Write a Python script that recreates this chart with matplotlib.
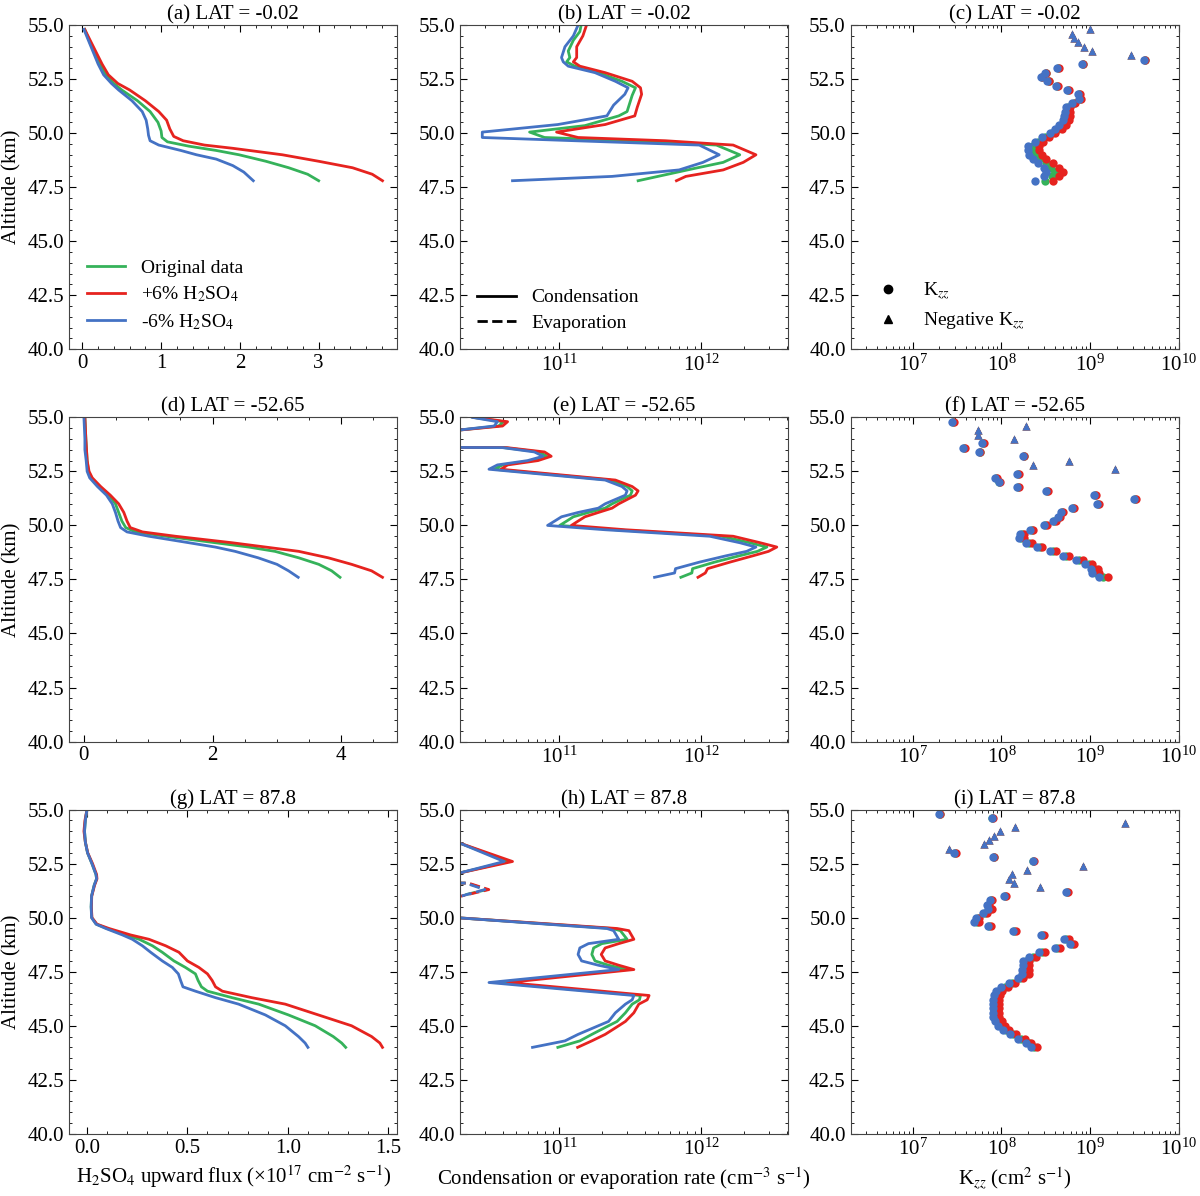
import matplotlib
matplotlib.use("Agg")
import matplotlib.pyplot as plt
from matplotlib.lines import Line2D
from matplotlib.ticker import AutoMinorLocator, MultipleLocator, FormatStrFormatter

plt.rcParams['font.family'] = 'serif'
plt.rcParams['font.serif'] = ['Liberation Serif', 'DejaVu Serif']
plt.rcParams['mathtext.fontset'] = 'stix'
plt.rcParams['font.size'] = 15

GREEN = '#35b25a'
RED = '#e6231f'
BLUE = '#4472c4'
ZERO = 1e3  # rate ~ 0, falls off the log axis

# ---------------- (a) flux, LAT = -0.02
a_green_alt = [54.8, 54.0, 53.2, 52.7, 52.3, 52.0, 51.5, 51.0, 50.5, 50.1, 49.8, 49.6, 49.4, 49.2, 49.0, 48.7, 48.4, 48.1, 47.8]
a_green = [0.03, 0.12, 0.22, 0.30, 0.40, 0.50, 0.70, 0.86, 0.96, 1.0, 1.01, 1.08, 1.35, 1.70, 1.99, 2.33, 2.62, 2.86, 3.0]
a_red_alt = [54.8, 54.0, 53.2, 52.7, 52.3, 52.0, 51.5, 51.0, 50.6, 50.2, 49.85, 49.65, 49.45, 49.3, 49.0, 48.7, 48.4, 48.1, 47.8]
a_red = [0.03, 0.14, 0.25, 0.33, 0.45, 0.60, 0.80, 0.97, 1.07, 1.11, 1.16, 1.28, 1.55, 1.91, 2.54, 3.0, 3.43, 3.68, 3.81]
a_blue_alt = [54.8, 54.0, 53.2, 52.7, 52.3, 52.0, 51.5, 51.0, 50.6, 50.2, 49.9, 49.65, 49.45, 49.2, 49.0, 48.8, 48.5, 48.2, 47.8]
a_blue = [0.02, 0.11, 0.20, 0.27, 0.37, 0.46, 0.63, 0.76, 0.81, 0.83, 0.84, 0.86, 0.97, 1.25, 1.45, 1.70, 1.91, 2.05, 2.17]

# ---------------- (b) condensation rate, LAT = -0.02
b_green_alt = [55.0, 54.7, 54.3, 53.8, 53.5, 53.3, 53.1, 52.8, 52.4, 52.1, 51.75, 51.0, 50.8, 50.35, 50.05, 49.8, 49.65, 49.45, 49.0, 48.65, 48.35, 47.8]
b_green = [1.43e11, 1.40e11, 1.26e11, 1.16e11, 1.19e11, 1.13e11, 1.29e11, 1.89e11, 2.77e11, 3.45e11, 3.27e11, 3.01e11, 2.63e11, 1.52e11, 6.2e10, 7.9e10, 3.27e11, 1.28e12, 1.87e12, 1.43e12, 8.7e11, 3.6e11]
b_red_alt = [55.0, 54.5, 54.0, 53.5, 53.3, 53.1, 52.8, 52.4, 52.1, 51.8, 51.2, 50.8, 50.4, 50.05, 49.8, 49.65, 49.45, 49.0, 48.65, 48.3, 48.0, 47.8]
b_red = [1.56e11, 1.47e11, 1.33e11, 1.33e11, 1.26e11, 1.40e11, 2.11e11, 3.27e11, 3.74e11, 3.81e11, 3.55e11, 3.41e11, 2.11e11, 9.6e10, 1.36e11, 5.6e11, 1.68e12, 2.43e12, 1.98e12, 1.43e12, 7.8e11, 6.7e11]
b_blue_alt = [55.0, 54.5, 54.0, 53.5, 53.3, 53.1, 52.8, 52.4, 52.1, 51.8, 51.3, 50.8, 50.4, 50.05, 49.8, 49.45, 49.0, 48.65, 48.3, 48.0, 47.8]
b_blue = [1.36e11, 1.26e11, 1.10e11, 1.04e11, 1.07e11, 1.16e11, 1.79e11, 2.49e11, 3.06e11, 2.90e11, 2.42e11, 2.17e11, 9.8e10, 2.88e10, 2.88e10, 9.7e11, 1.34e12, 1.03e12, 7.0e11, 2.36e11, 4.7e10]

# ---------------- (c) Kzz, LAT = -0.02
c_alt = [53.4, 53.2, 53.0, 52.8, 52.6, 52.4, 52.2, 52.0, 51.8, 51.6, 51.4, 51.2, 51.0, 50.8, 50.6,
         50.4, 50.2, 50.0, 49.8, 49.6, 49.4, 49.2, 49.0, 48.8, 48.6, 48.4, 48.2, 48.0, 47.8]
c_green = [4.1e9, 8.2e8, 4.3e8, 3.15e8, 2.85e8, 3.4e8, 4.2e8, 5.6e8, 7.4e8, 7.6e8, 6.5e8, 5.6e8, 5.5e8, 5.4e8, 5.2e8,
           4.8e8, 4.3e8, 3.7e8, 3.1e8, 2.6e8, 2.25e8, 2.2e8, 2.45e8, 2.68e8, 3.2e8, 3.6e8, 3.96e8, 3.7e8, 3.1e8]
c_red = [4.15e9, 8.3e8, 4.4e8, 3.2e8, 2.9e8, 3.45e8, 4.3e8, 5.7e8, 7.6e8, 7.9e8, 6.8e8, 5.9e8, 5.85e8, 5.85e8, 5.7e8,
         5.3e8, 4.8e8, 4.06e8, 3.42e8, 2.93e8, 2.64e8, 2.68e8, 2.87e8, 3.19e8, 3.8e8, 4.5e8, 4.9e8, 4.5e8, 3.8e8]
c_blue = [4.0e9, 8.0e8, 4.2e8, 3.1e8, 2.8e8, 3.3e8, 4.1e8, 5.5e8, 7.2e8, 7.4e8, 6.3e8, 5.3e8, 5.2e8, 5.1e8, 4.9e8,
          4.5e8, 4.0e8, 3.5e8, 2.85e8, 2.4e8, 2.0e8, 1.98e8, 2.05e8, 2.24e8, 2.6e8, 3.0e8, 3.15e8, 3.0e8, 2.4e8]
c_neg_alt = [54.8, 54.6, 54.4, 54.2, 54.0, 53.8, 53.6]
c_neg = [1.0e9, 6.2e8, 6.5e8, 7.3e8, 8.6e8, 1.06e9, 2.9e9]

# ---------------- (d) flux, LAT = -52.65
d_alt = [55.0, 54.0, 53.5, 53.0, 52.5, 52.2, 51.8, 51.4, 51.0, 50.6, 50.2, 49.9, 49.7, 49.5, 49.2, 49.0, 48.8, 48.5, 48.2, 47.9, 47.6]
d_green = [0.015, 0.03, 0.04, 0.05, 0.07, 0.12, 0.23, 0.39, 0.49, 0.54, 0.59, 0.65, 0.80, 1.27, 2.04, 2.56, 2.97, 3.34, 3.65, 3.85, 3.98]
d_red = [0.015, 0.03, 0.04, 0.05, 0.08, 0.13, 0.26, 0.41, 0.54, 0.62, 0.67, 0.72, 0.91, 1.42, 2.30, 2.82, 3.34, 3.80, 4.16, 4.47, 4.64]
d_blue = [0.0, 0.015, 0.015, 0.035, 0.05, 0.09, 0.21, 0.35, 0.44, 0.49, 0.53, 0.57, 0.67, 1.01, 1.63, 2.04, 2.35, 2.71, 3.0, 3.18, 3.33]

# ---------------- (e) condensation rate, LAT = -52.65
e_alt = [55.0, 54.8, 54.6, 54.4, 54.2, 53.8, 53.6, 53.4, 53.2, 53.0, 52.8, 52.6, 52.1, 51.8, 51.6, 51.4,
         51.0, 50.8, 50.6, 50.4, 50.2, 50.0, 49.8, 49.5, 49.2, 49.0, 48.8, 48.6, 48.3, 48.0, 47.8, 47.6]
e_green = [2.48e10, 4.07e10, 3.75e10, 1.9e10, ZERO, ZERO, 4.1e10, 7.3e10, 8.2e10, 6.5e10, 4.0e10, 3.49e10, 2.29e11, 3.01e11, 3.27e11, 3.18e11,
           2.36e11, 2.11e11, 1.61e11, 1.26e11, 1.13e11, 1.01e11, 2.49e11, 1.39e12, 2.2e12, 2.9e12, 2.49e12, 1.87e12, 1.24e12, 8.7e11, 8.6e11, 7.2e11]
e_red = [2.51e10, 4.34e10, 4.0e10, 1.9e10, ZERO, ZERO, 4.3e10, 7.9e10, 8.8e10, 7.1e10, 4.34e10, 3.9e10, 2.49e11, 3.27e11, 3.6e11, 3.45e11,
         2.63e11, 2.36e11, 1.89e11, 1.52e11, 1.36e11, 1.22e11, 2.93e11, 1.68e12, 2.6e12, 3.41e12, 2.98e12, 2.33e12, 1.59e12, 1.11e12, 1.07e12, 9.5e11]
e_blue = [2.45e10, 3.68e10, 3.49e10, 1.9e10, ZERO, ZERO, 4.0e10, 6.7e10, 7.7e10, 6.0e10, 3.68e10, 3.21e10, 2.11e11, 2.77e11, 3.01e11, 2.93e11,
          2.11e11, 1.89e11, 1.36e11, 1.04e11, 9.3e10, 8.3e10, 2.11e11, 1.15e12, 1.87e12, 2.43e12, 2.09e12, 1.51e12, 9.7e11, 6.6e11, 6.5e11, 4.7e11]

# ---------------- (f) Kzz, LAT = -52.65
f_alt = [54.8, 53.8, 53.6, 53.4, 53.2, 52.4, 52.2, 52.0, 51.8, 51.6, 51.4, 51.2, 51.0, 50.8, 50.6,
         50.4, 50.2, 50.0, 49.8, 49.6, 49.4, 49.2, 49.0, 48.8, 48.6, 48.4, 48.2, 48.0, 47.8, 47.6]
f_green = [2.85e7, 6.2e7, 3.8e7, 5.7e7, 1.78e8, 1.53e8, 8.7e7, 9.5e7, 1.53e8, 3.3e8, 1.12e9, 3.2e9, 1.22e9, 6.4e8, 4.8e8,
           4.4e8, 3.9e8, 3.1e8, 2.2e8, 1.7e8, 1.68e8, 2.05e8, 2.7e8, 3.8e8, 5.4e8, 7.5e8, 9.6e8, 1.12e9, 1.15e9, 1.4e9]
f_red = [2.9e7, 6.3e7, 3.85e7, 5.8e7, 1.8e8, 1.56e8, 8.9e7, 9.7e7, 1.56e8, 3.35e8, 1.15e9, 3.25e9, 1.25e9, 6.6e8, 4.9e8,
         4.6e8, 4.1e8, 3.25e8, 2.25e8, 1.8e8, 1.8e8, 2.2e8, 2.9e8, 4.1e8, 5.8e8, 8.2e8, 1.05e9, 1.23e9, 1.26e9, 1.57e9]
f_blue = [2.8e7, 6.1e7, 3.7e7, 5.6e7, 1.75e8, 1.5e8, 8.5e7, 9.3e7, 1.5e8, 3.2e8, 1.1e9, 3.1e9, 1.2e9, 6.3e8, 4.7e8,
          4.3e8, 3.8e8, 3.0e8, 2.1e8, 1.6e8, 1.58e8, 1.9e8, 2.5e8, 3.5e8, 5.0e8, 6.9e8, 8.8e8, 1.02e9, 1.05e9, 1.26e9]
f_neg_alt = [54.6, 54.4, 54.2, 54.0, 53.0, 52.8, 52.6]
f_neg = [1.9e8, 5.5e7, 5.5e7, 1.4e8, 5.8e8, 2.25e8, 1.9e9]

# ---------------- (g) flux, LAT = 87.8
g_alt = [55.0, 54.5, 54.0, 53.5, 53.0, 52.5, 52.0, 51.8, 51.5, 51.0, 50.5, 50.0, 49.7, 49.5, 49.2, 49.0,
         48.7, 48.4, 48.0, 47.7, 47.4, 47.1, 46.8, 46.6, 46.3, 46.0, 45.5, 45.0, 44.5, 44.2, 44.0]
g_green = [0.0, -0.008, -0.012, -0.008, 0.003, 0.025, 0.045, 0.048, 0.036, 0.023, 0.021, 0.024, 0.047, 0.10, 0.193, 0.26,
           0.326, 0.375, 0.433, 0.49, 0.54, 0.553, 0.57, 0.60, 0.722, 0.855, 1.003, 1.136, 1.226, 1.268, 1.288]
g_red = [0.0, -0.01, -0.015, -0.008, 0.004, 0.028, 0.048, 0.05, 0.038, 0.024, 0.022, 0.025, 0.05, 0.11, 0.218, 0.309,
         0.392, 0.458, 0.50, 0.557, 0.60, 0.623, 0.64, 0.674, 0.82, 0.987, 1.152, 1.317, 1.417, 1.458, 1.471]
g_blue = [0.0, -0.008, -0.012, -0.008, 0.003, 0.025, 0.045, 0.048, 0.036, 0.023, 0.021, 0.023, 0.045, 0.094, 0.177, 0.226,
          0.276, 0.317, 0.375, 0.425, 0.455, 0.466, 0.478, 0.54, 0.64, 0.755, 0.888, 0.987, 1.053, 1.086, 1.10]

# ---------------- (h) condensation / evaporation rate, LAT = 87.8
h_alt = [53.6, 53.45, 52.6, 52.07, 51.9, 50.2, 50.0, 49.5, 49.4, 49.0, 48.8, 48.6, 48.3, 48.0, 47.8, 47.6,
         47.0, 46.4, 46.2, 46.0, 45.6, 45.2, 45.0, 44.6, 44.3, 44.0]
h_green = [ZERO, 2.0e10, 4.4e10, 2.0e10, ZERO, ZERO, 1.9e10, 2.36e11, 2.70e11, 3.01e11, 2.0e11, 1.75e11, 1.70e11, 1.79e11, 2.23e11, 3.01e11,
           3.68e10, 3.74e11, 3.68e11, 3.27e11, 2.93e11, 2.56e11, 2.23e11, 1.70e11, 1.40e11, 9.8e10]
h_red = [ZERO, 2.0e10, 4.7e10, 2.0e10, ZERO, ZERO, 1.9e10, 2.56e11, 3.1e11, 3.36e11, 2.63e11, 2.11e11, 1.98e11, 2.11e11, 2.63e11, 3.36e11,
         4.34e10, 4.3e11, 4.17e11, 3.64e11, 3.36e11, 2.93e11, 2.63e11, 2.11e11, 1.70e11, 1.35e11]
h_blue = [ZERO, 2.0e10, 4.1e10, 2.0e10, ZERO, ZERO, 1.9e10, 2.17e11, 2.42e11, 2.63e11, 1.61e11, 1.40e11, 1.36e11, 1.44e11, 1.89e11, 2.63e11,
          3.21e10, 3.36e11, 3.27e11, 2.93e11, 2.49e11, 2.23e11, 1.89e11, 1.36e11, 1.10e11, 6.5e10]
h_evap_alt = [51.8, 51.6, 51.3, 51.0, 50.8]
h_evap_green = [ZERO, 2.25e10, 3.1e10, 2.0e10, ZERO]
h_evap_red = [ZERO, 2.3e10, 3.2e10, 2.05e10, ZERO]
h_evap_blue = [ZERO, 2.2e10, 3.0e10, 2.05e10, ZERO]

# ---------------- (i) Kzz, LAT = 87.8
i_alt = [54.8, 54.6, 53.0, 52.8, 52.6, 51.2, 51.0, 50.8, 50.6, 50.4, 50.2, 50.0, 49.8, 49.6, 49.4, 49.2, 49.0, 48.8,
         48.6, 48.4, 48.2, 48.0, 47.8, 47.6, 47.4, 47.2, 47.0, 46.8, 46.6, 46.4, 46.2, 46.0, 45.8, 45.6, 45.4,
         45.2, 45.0, 44.8, 44.6, 44.4, 44.2, 44.0]
i_green = [2.02e7, 7.9e7, 3.0e7, 8.2e7, 2.28e8, 5.5e8, 1.1e8, 7.6e7, 7.0e7, 7.4e7, 6.5e7, 5.4e7, 5.3e7, 7.3e7, 1.4e8, 2.9e8, 5.4e8, 6.2e8,
           4.25e8, 2.9e8, 2.25e8, 1.9e8, 1.9e8, 1.89e8, 1.87e8, 1.63e8, 1.33e8, 1.09e8, 9.4e7, 9.0e7, 8.8e7, 8.6e7, 8.6e7, 8.6e7, 8.8e7,
           9.3e7, 1.01e8, 1.13e8, 1.35e8, 1.67e8, 2.02e8, 2.33e8]
i_red = [2.05e7, 8.0e7, 3.05e7, 8.3e7, 2.3e8, 5.6e8, 1.13e8, 7.85e7, 7.3e7, 7.85e7, 6.8e7, 5.65e7, 5.65e7, 7.6e7, 1.46e8, 3.05e8, 5.7e8, 6.65e8,
         4.6e8, 3.13e8, 2.42e8, 2.03e8, 2.07e8, 2.07e8, 2.03e8, 1.74e8, 1.44e8, 1.2e8, 1.02e8, 9.75e7, 9.5e7, 9.3e7, 9.3e7, 9.3e7, 9.5e7,
         1.01e8, 1.11e8, 1.23e8, 1.46e8, 1.82e8, 2.18e8, 2.5e8]
i_blue = [2.0e7, 7.8e7, 2.95e7, 8.1e7, 2.26e8, 5.4e8, 1.08e8, 7.4e7, 6.8e7, 7.0e7, 6.2e7, 5.2e7, 4.96e7, 7.0e7, 1.34e8, 2.8e8, 5.1e8, 5.85e8,
          3.96e8, 2.68e8, 2.07e8, 1.77e8, 1.74e8, 1.71e8, 1.71e8, 1.53e8, 1.23e8, 9.9e7, 8.7e7, 8.3e7, 8.1e7, 7.98e7, 7.98e7, 7.98e7, 8.1e7,
          8.55e7, 9.25e7, 1.04e8, 1.25e8, 1.53e8, 1.87e8, 2.16e8]
i_neg_alt = [54.4, 54.2, 54.0, 53.8, 53.6, 53.4, 53.2, 52.4, 52.2, 52.0, 51.8, 51.6, 51.4]
i_neg = [2.44e9, 1.44e8, 9.7e7, 8.2e7, 7.3e7, 6.3e7, 2.6e7, 8.3e8, 1.95e8, 1.32e8, 1.23e8, 1.4e8, 2.73e8]

titles = ['(a) LAT = -0.02', '(b) LAT = -0.02', '(c) LAT = -0.02',
          '(d) LAT = -52.65', '(e) LAT = -52.65', '(f) LAT = -52.65',
          '(g) LAT = 87.8', '(h) LAT = 87.8', '(i) LAT = 87.8']
labels = ['Original data', '+6% H$_2$SO$_4$', '-6% H$_2$SO$_4$']


def style_axis(ax, logx):
    ax.set_ylim(40, 55)
    ax.yaxis.set_major_locator(MultipleLocator(2.5))
    ax.yaxis.set_major_formatter(FormatStrFormatter('%.1f'))
    ax.yaxis.set_minor_locator(AutoMinorLocator())
    if not logx:
        ax.xaxis.set_minor_locator(AutoMinorLocator())
    ax.tick_params(which='both', direction='in', top=True, right=True, labelsize=15)
    ax.tick_params(which='major', length=5)
    ax.tick_params(which='minor', length=2.5)
    for sp in ax.spines.values():
        sp.set_color('#444444')


fig, axes = plt.subplots(3, 3, figsize=(12, 11.96), dpi=100)
fig.subplots_adjust(left=0.0575, right=0.9825, bottom=0.052, top=0.979, wspace=0.19, hspace=0.21)

# flux column
flux = [
    [(a_green_alt, a_green), (a_red_alt, a_red), (a_blue_alt, a_blue)],
    [(d_alt, d_green), (d_alt, d_red), (d_alt, d_blue)],
    [(g_alt, g_green), (g_alt, g_red), (g_alt, g_blue)],
]
for row in range(3):
    ax = axes[row, 0]
    for (alt, val), col, lab in zip(flux[row], [GREEN, RED, BLUE], labels):
        ax.plot(val, alt, color=col, lw=2, label=lab)
    style_axis(ax, False)
    ax.set_ylabel('Altitude (km)', fontsize=15)
axes[0, 0].legend(loc='lower left', frameon=False, fontsize=14, labelspacing=0.4)
axes[2, 0].xaxis.set_major_locator(MultipleLocator(0.5))
axes[2, 0].set_xlabel('H$_2$SO$_4$ upward flux (×10$^{17}$ cm$^{-2}$ s$^{-1}$)', fontsize=15)

# condensation column
rates = [
    [(b_green_alt, b_green), (b_red_alt, b_red), (b_blue_alt, b_blue)],
    [(e_alt, e_green), (e_alt, e_red), (e_alt, e_blue)],
    [(h_alt, h_green), (h_alt, h_red), (h_alt, h_blue)],
]
for row in range(3):
    ax = axes[row, 1]
    for (alt, val), col in zip(rates[row], [GREEN, RED, BLUE]):
        ax.plot(val, alt, color=col, lw=2)
    if row == 2:
        for val, col in zip([h_evap_green, h_evap_red, h_evap_blue], [GREEN, RED, BLUE]):
            ax.plot(val, h_evap_alt, color=col, lw=2, ls='--')
    ax.set_xscale('log')
    ax.set_xlim(2e10, 4.1e12)
    style_axis(ax, True)
rate_handles = [Line2D([], [], color='black', lw=2, ls='-'),
                Line2D([], [], color='black', lw=2, ls='--')]
axes[0, 1].legend(rate_handles, ['Condensation', 'Evaporation'], loc='lower left',
                  frameon=False, fontsize=14, labelspacing=0.4)
axes[2, 1].set_xlabel('Condensation or evaporation rate (cm$^{-3}$ s$^{-1}$)', fontsize=15)

# Kzz column
kzz = [
    (c_alt, [c_green, c_red, c_blue], c_neg_alt, c_neg),
    (f_alt, [f_green, f_red, f_blue], f_neg_alt, f_neg),
    (i_alt, [i_green, i_red, i_blue], i_neg_alt, i_neg),
]
for row in range(3):
    ax = axes[row, 2]
    alt, series, neg_alt, neg = kzz[row]
    for val, col in zip(series, [GREEN, RED, BLUE]):
        ax.plot(val, alt, ls='none', marker='o', ms=6, color=col, mec='none')
        ax.plot(neg, neg_alt, ls='none', marker='^', ms=6, color=col, mec='none')
    ax.set_xscale('log')
    ax.set_xlim(2e6, 1e10)
    style_axis(ax, True)
kzz_handles = [Line2D([], [], color='black', ls='none', marker='o', ms=6),
               Line2D([], [], color='black', ls='none', marker='^', ms=6)]
axes[0, 2].legend(kzz_handles, ['K$_{zz}$', 'Negative K$_{zz}$'], loc='lower left',
                  frameon=False, fontsize=14, labelspacing=0.4)
axes[2, 2].set_xlabel('K$_{zz}$ (cm$^2$ s$^{-1}$)', fontsize=15)

for ax, t in zip(axes.flat, titles):
    ax.set_title(t, fontsize=15, pad=4)

fig.savefig('out.png', dpi=100)
